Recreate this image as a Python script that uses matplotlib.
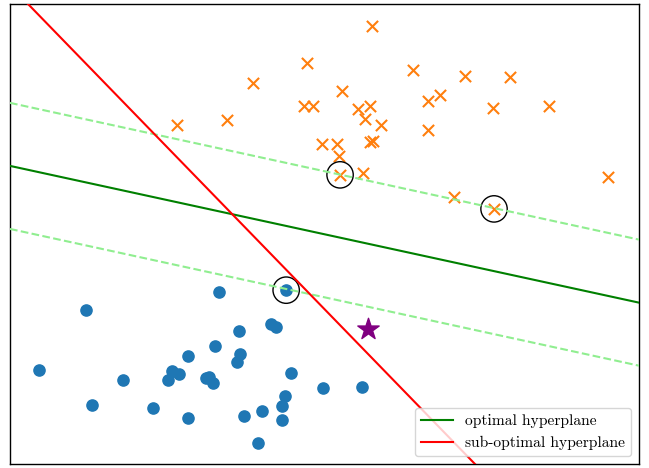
import numpy as np
import matplotlib
matplotlib.use("Agg")
import matplotlib.pyplot as plt

plt.rcParams['font.family'] = ['cmr10', 'DejaVu Serif']
plt.rcParams['axes.unicode_minus'] = False

# class -1 samples (blue dots)
neg_x = [4.61, 3.49, 1.27, 4.36, 4.44, 3.82, 3.42, 3.84, 3.79, 2.97, 0.48, 2.70,
         2.82, 2.64, 1.89, 3.27, 3.32, 3.39, 4.69, 5.23, 5.88, 4.59, 4.54, 1.37,
         2.39, 2.97, 3.91, 4.21, 4.54, 4.14]
neg_y = [2.91, 2.88, 2.58, 2.34, 2.29, 2.23, 1.98, 1.84, 1.70, 1.81, 1.57, 1.56,
         1.51, 1.41, 1.41, 1.44, 1.46, 1.36, 1.52, 1.28, 1.29, 1.14, 0.97, 0.99,
         0.94, 0.77, 0.80, 0.89, 0.74, 0.35]

# class +1 samples (orange crosses)
pos_x = [6.05, 4.95, 4.06, 6.73, 7.60, 8.35, 5.55, 7.18, 6.98, 4.91, 5.05, 5.81,
         6.01, 5.93, 6.20, 8.07, 8.99, 2.78, 3.63, 6.98, 5.21, 5.46, 6.01, 6.06,
         5.50, 5.51, 5.90, 7.42, 8.08, 9.99]
pos_y = [7.33, 6.71, 6.38, 6.60, 6.50, 6.48, 6.25, 6.18, 6.08, 6.00, 6.00, 5.94,
         6.00, 5.78, 5.68, 5.96, 6.00, 5.68, 5.76, 5.59, 5.36, 5.36, 5.39, 5.41,
         5.16, 4.84, 4.87, 4.47, 4.27, 4.80]

# support vectors
sv_x = [4.61, 5.51, 8.08]
sv_y = [2.91, 4.84, 4.27]

# query point
star_x = [5.98]
star_y = [2.26]

# hyperplanes: y = slope * x + intercept
opt_slope, opt_intercept = -0.218, 4.99
margin = 1.055
sub_slope, sub_intercept = -1.032, 8.01

xlim = (0, 10.5)
ylim = (0, 7.7)

fig = plt.figure(figsize=(6.49, 4.68), dpi=100)
ax = fig.add_axes([0.0154, 0.0085, 0.9692, 0.983])

ax.scatter(neg_x, neg_y, s=65, color='tab:blue', zorder=2)
ax.scatter(pos_x, pos_y, s=65, marker='x', color='tab:orange', linewidths=1.5, zorder=2)
ax.scatter(sv_x, sv_y, s=360, facecolors='none', edgecolors='black', linewidths=1, zorder=2)
ax.scatter(star_x, star_y, s=260, marker='*', color='purple', zorder=2)

xs = np.array(xlim)
ax.plot(xs, opt_slope * xs + opt_intercept + margin, '--', color='lightgreen', lw=1.5, zorder=3)
ax.plot(xs, opt_slope * xs + opt_intercept - margin, '--', color='lightgreen', lw=1.5, zorder=3)
ax.plot(xs, opt_slope * xs + opt_intercept, color='green', lw=1.5, zorder=3,
        label='optimal hyperplane')
ax.plot(xs, sub_slope * xs + sub_intercept, color='red', lw=1.5, zorder=3,
        label='sub-optimal hyperplane')

ax.set_xlim(*xlim)
ax.set_ylim(*ylim)
ax.set_xticks([])
ax.set_yticks([])
for sp in ax.spines.values():
    sp.set_color('black')
    sp.set_linewidth(1.0)

ax.legend(loc='lower right', fontsize=11.2)

fig.savefig("out.png", dpi=100)
